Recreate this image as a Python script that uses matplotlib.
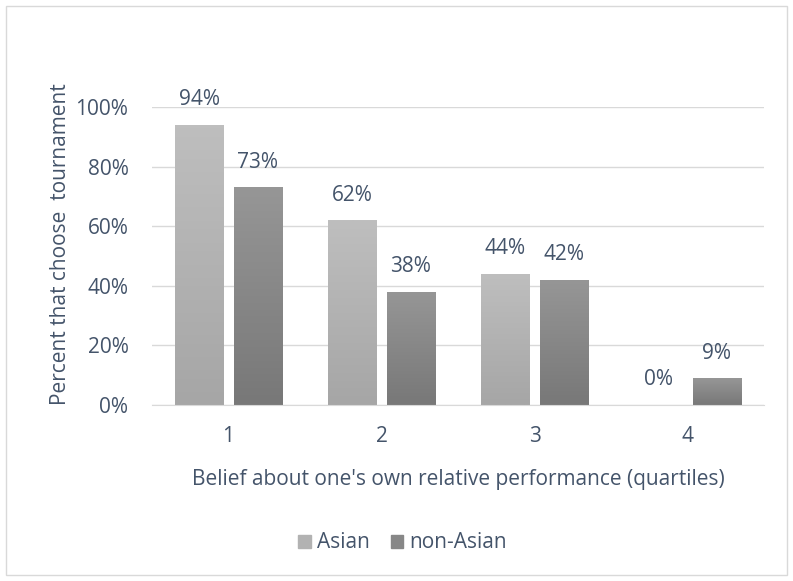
import numpy as np
import matplotlib
matplotlib.use("Agg")
import matplotlib.pyplot as plt
from matplotlib.patches import Rectangle

categories = ["1", "2", "3", "4"]
asian = [94, 62, 44, 0]
non_asian = [73, 38, 42, 9]
series_names = ["Asian", "non-Asian"]
y_ticks = [0, 20, 40, 60, 80, 100]

TEXT = "#44546a"
GRID = "#d9d9d9"
FS = 15

plt.rcParams["font.family"] = ["Open Sans", "DejaVu Sans"]

fig = plt.figure(figsize=(7.93, 5.81), dpi=100)
ax = fig.add_axes([152 / 793, 1 - 405 / 581, 612 / 793, 298 / 581])

# outer chart border
fig.patches.append(Rectangle((6 / 793, 6 / 581), 781 / 793, 569 / 581,
                             transform=fig.transFigure, fill=False,
                             edgecolor=GRID, linewidth=1.0))


def gradient_bars(xs, heights, width, top_col, bot_col):
    cmap = matplotlib.colors.LinearSegmentedColormap.from_list("g", [bot_col, top_col])
    bars = ax.bar(xs, heights, width, color="none", edgecolor="none", zorder=2)
    for b in bars:
        h = b.get_height()
        if h <= 0:
            continue
        x0 = b.get_x()
        grad = np.linspace(0, 1, 64).reshape(-1, 1)
        im = ax.imshow(grad, cmap=cmap, aspect="auto", origin="lower",
                       extent=[x0, x0 + width, 0, h], zorder=2)
        im.set_clip_path(b)
    return bars


x = np.arange(len(categories))
w = 0.314
off = 0.19
gradient_bars(x - off, asian, w, "#bebebe", "#a6a6a6")
gradient_bars(x + off, non_asian, w, "#969696", "#787878")

for xi, v in zip(x - off, asian):
    ax.text(xi, v + 8.4, f"{v}%", ha="center", va="center", color=TEXT, fontsize=FS)
for xi, v in zip(x + off, non_asian):
    ax.text(xi, v + 8.4, f"{v}%", ha="center", va="center", color=TEXT, fontsize=FS)

ax.set_xlim(-0.5, len(categories) - 0.5)
ax.set_ylim(0, 100)
ax.set_yticks(y_ticks)
ax.set_yticklabels([f"{t}%" for t in y_ticks])
ax.set_xticks(x)
ax.set_xticklabels(categories)
ax.yaxis.grid(True, color=GRID, linewidth=1.0, zorder=0)
ax.set_axisbelow(True)
for s in ["top", "right", "left"]:
    ax.spines[s].set_visible(False)
ax.spines["bottom"].set_color(GRID)
ax.tick_params(axis="both", length=0, colors=TEXT, labelsize=FS)
ax.tick_params(axis="y", pad=17)
ax.tick_params(axis="x", pad=15)

ax.set_xlabel("Belief about one's own relative performance (quartiles)",
              color=TEXT, fontsize=FS, labelpad=16)
ax.set_ylabel("Percent that choose  tournament", color=TEXT, fontsize=FS)
ax.yaxis.set_label_coords(-0.133, 0.54)
ax.set_facecolor("white")

# legend
handles = [Rectangle((0, 0), 1, 1, color="#b2b2b2"), Rectangle((0, 0), 1, 1, color="#878787")]
fig.legend(handles, series_names, loc="center", bbox_to_anchor=(0.508, 1 - 543 / 581),
           ncol=2, frameon=False, fontsize=FS, labelcolor=TEXT,
           handlelength=0.6, handleheight=0.6, handletextpad=0.3, columnspacing=1.0)

fig.savefig("out.png", dpi=100, facecolor="white")
